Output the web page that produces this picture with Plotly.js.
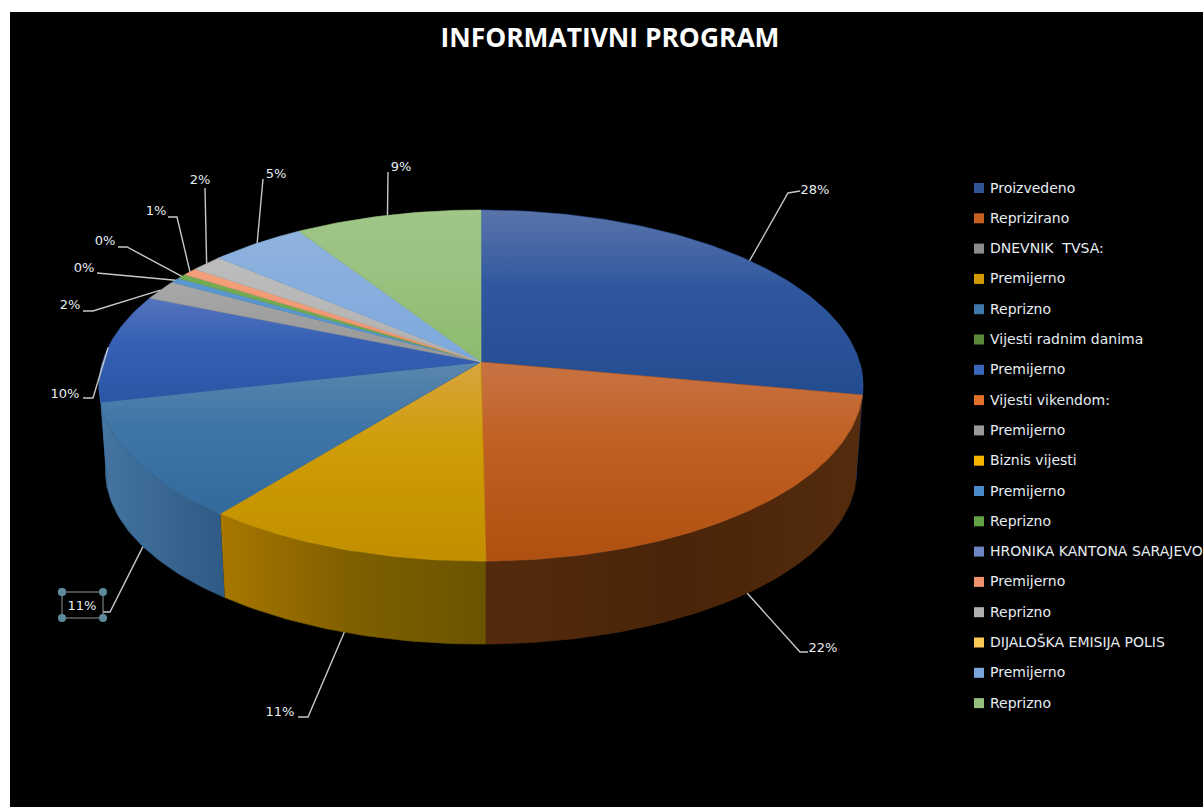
<!DOCTYPE html>
<html><head><meta charset="utf-8">
<script src="https://cdn.plot.ly/plotly-3.0.1.min.js"></script>
<style>html,body{margin:0;padding:0;background:#fff;overflow:hidden}#c{width:1203px;height:807px}</style>
</head><body><div id="c"></div>
<script>
const categories = ["Proizvedeno","Reprizirano","DNEVNIK  TVSA:","Premijerno","Reprizno","Vijesti radnim danima","Premijerno","Vijesti vikendom:","Premijerno","Biznis vijesti","Premijerno","Reprizno","HRONIKA KANTONA SARAJEVO","Premijerno","Reprizno","DIJALOŠKA EMISIJA POLIS","Premijerno","Reprizno"];
const values = [28,21.85,0,10.75,10.8,0,10,0,1.85,0,0.5,0.45,0,0.7,1.55,0,4.6,9.0];
const legendColors = ["#2f5597","#c55f22","#8c8c8c","#d29a00","#3f77a8","#5b8a3c","#3a66bb","#e0702a","#9a9a9a","#f5b400","#4a8ccb","#62a345","#6d86c2","#f0926e","#b0b0b0","#fcc858","#7ba6dc","#95bf7e"];
const topColors = {0:["#5a74aa","#2f579f","#234c90"],1:["#c87344","#c05f22","#b05010"],3:["#d8a540","#cf9d06","#c28e00"],4:["#5a87ad","#3f75a7","#336a9c"],6:["#5574bd","#3560b5","#2b56a5"],8:["#a8a8a8","#a0a0a0","#989898"],10:["#5b97cf","#5b97cf","#5090c8"],11:["#72ab52","#72ab52","#68a048"],13:["#f4a07c","#f29a74","#ee9068"],14:["#bcbcbc","#b8b8b8","#b0b0b0"],16:["#8fb3dd","#88aede","#7ba9dc"],17:["#a0c688","#9ac280","#8dba6f"]};
const wallColors = {0:["#1d3c6e","#1d3c6e"],1:["#552a0c","#4a2409","#542b0d"],3:["#a87700","#7f5f00","#6b5400"],4:["#44749f","#2e5a85"],6:["#44749f","#44749f"]};
/* leader elbows and text anchors, index matches values */
const leaderStyle = {
 0:{wall:false,via:[[788,193],[800,191]],label:[815,191]},
 1:{wall:true,via:[[800,652],[808,652]],label:[823,649]},
 3:{wall:true,via:[[308,717],[298,717]],label:[280,713]},
 4:{wall:true,via:[[110,612],[103,612]],label:[82,607]},
 6:{wall:false,via:[[93,398],[83,398]],label:[65,395]},
 8:{wall:false,via:[[93,311],[83,311]],label:[70,306]},
 10:{wall:false,via:[[97,273]],label:[84,269]},
 11:{wall:false,via:[[127,247],[118,247]],label:[105,242]},
 13:{wall:false,via:[[177,217],[168,217]],label:[156,212]},
 14:{wall:false,via:[[205,188]],label:[200,181]},
 16:{wall:false,via:[[263,179]],label:[276,175]},
 17:{wall:false,via:[[388,172]],label:[401,168]}
};
const selectionBox = {x:[62,103,103,62,62],y:[592,592,618,618,592]};

const CX=481,CY=362,RX=378.5,RY=172.4,P=0.134,BY=448.4,BS=0.983;
function rim(deg,bottom){
  const t=deg*Math.PI/180,D=1+P*Math.cos(t),x=RX*Math.sin(t)/D,y=-RY*Math.cos(t)/D;
  return bottom?[CX+BS*x,BY+BS*y]:[CX+x,CY+y];
}
function arc(a,b,bottom){
  const n=Math.max(2,Math.ceil(Math.abs(b-a))),pts=[];
  for(let i=0;i<=n;i++)pts.push(rim(a+(b-a)*i/n,bottom));
  return pts;
}
const total=values.reduce((s,v)=>s+v,0);
const spans=[];let cum=0;
values.forEach(v=>{spans.push([cum/total*360,(cum+v)/total*360]);cum+=v;});
const traces=[],base={mode:'lines',fill:'toself',hoverinfo:'skip',showlegend:false};
/* side walls */
values.forEach((v,i)=>{
  if(!v||!wallColors[i])return;
  const a=Math.max(spans[i][0],90),b=Math.min(spans[i][1],270);
  if(b<=a)return;
  const pts=arc(a,b,false).concat(arc(b,a,true));
  const cs=wallColors[i];
  traces.push(Object.assign({},base,{x:pts.map(p=>p[0]),y:pts.map(p=>p[1]),name:categories[i]+' wall',
    line:{width:0.6,color:cs[cs.length-1]},
    fillgradient:{type:'horizontal',colorscale:cs.map((c,k)=>[k/(cs.length-1),c])}}));
});
/* top faces: the y axis is flipped, so gradient position 1 is the upper edge of a slice */
values.forEach((v,i)=>{
  if(!v)return;
  const pts=[[CX,CY]].concat(arc(spans[i][0],spans[i][1],false));pts.push([CX,CY]);
  const cs=topColors[i];
  traces.push(Object.assign({},base,{x:pts.map(p=>p[0]),y:pts.map(p=>p[1]),name:categories[i],
    line:{width:0.6,color:cs[1]},
    fillgradient:{type:'vertical',colorscale:[[0,cs[2]],[0.58,cs[1]],[1,cs[0]]]}}));
});
/* leader lines and percent labels */
values.forEach((v,i)=>{
  const s=leaderStyle[i]; if(!s)return;
  const st=rim((spans[i][0]+spans[i][1])/2,s.wall);
  const pts=[st].concat(s.via);
  traces.push({mode:'lines',x:pts.map(p=>p[0]),y:pts.map(p=>p[1]),line:{color:'#c4c8ca',width:1.4},hoverinfo:'skip',showlegend:false});
  traces.push({mode:'text',x:[s.label[0]],y:[s.label[1]],text:[Math.round(v/total*100)+'%'],textposition:'middle center',
    textfont:{family:'DejaVu Sans',size:13,color:'#e6edf2'},hoverinfo:'skip',showlegend:false,cliponaxis:false});
});
/* selected label frame */
traces.push({mode:'lines+markers',x:selectionBox.x,y:selectionBox.y,line:{color:'#8f9a9e',width:1},
  marker:{size:8,color:'#5f8a9e'},hoverinfo:'skip',showlegend:false});
/* legend */
traces.push({mode:'markers',x:categories.map(()=>979),y:categories.map((c,i)=>188+i*30.3),
  marker:{symbol:'square',size:10,color:legendColors,line:{width:0}},hoverinfo:'skip',showlegend:false});
traces.push({mode:'text',x:categories.map(()=>990),y:categories.map((c,i)=>189+i*30.3),text:categories,textposition:'middle right',
  textfont:{family:'DejaVu Sans',size:14,color:'#e6edf2'},hoverinfo:'skip',showlegend:false,cliponaxis:false});

const layout={width:1203,height:807,paper_bgcolor:'#ffffff',plot_bgcolor:'#000000',
  margin:{l:10,t:12,r:0,b:0,pad:0},showlegend:false,
  title:{text:'INFORMATIVNI PROGRAM',x:610/1203,xref:'container',xanchor:'center',y:1-38/807,yref:'container',yanchor:'middle',
    font:{family:'Open Sans',size:26.4,weight:700,color:'#ffffff'}},
  xaxis:{range:[10,1203],visible:false,fixedrange:true},
  yaxis:{range:[807,12],visible:false,fixedrange:true}};
Plotly.newPlot('c',traces,layout,{displayModeBar:false,responsive:false});
</script></body></html>
